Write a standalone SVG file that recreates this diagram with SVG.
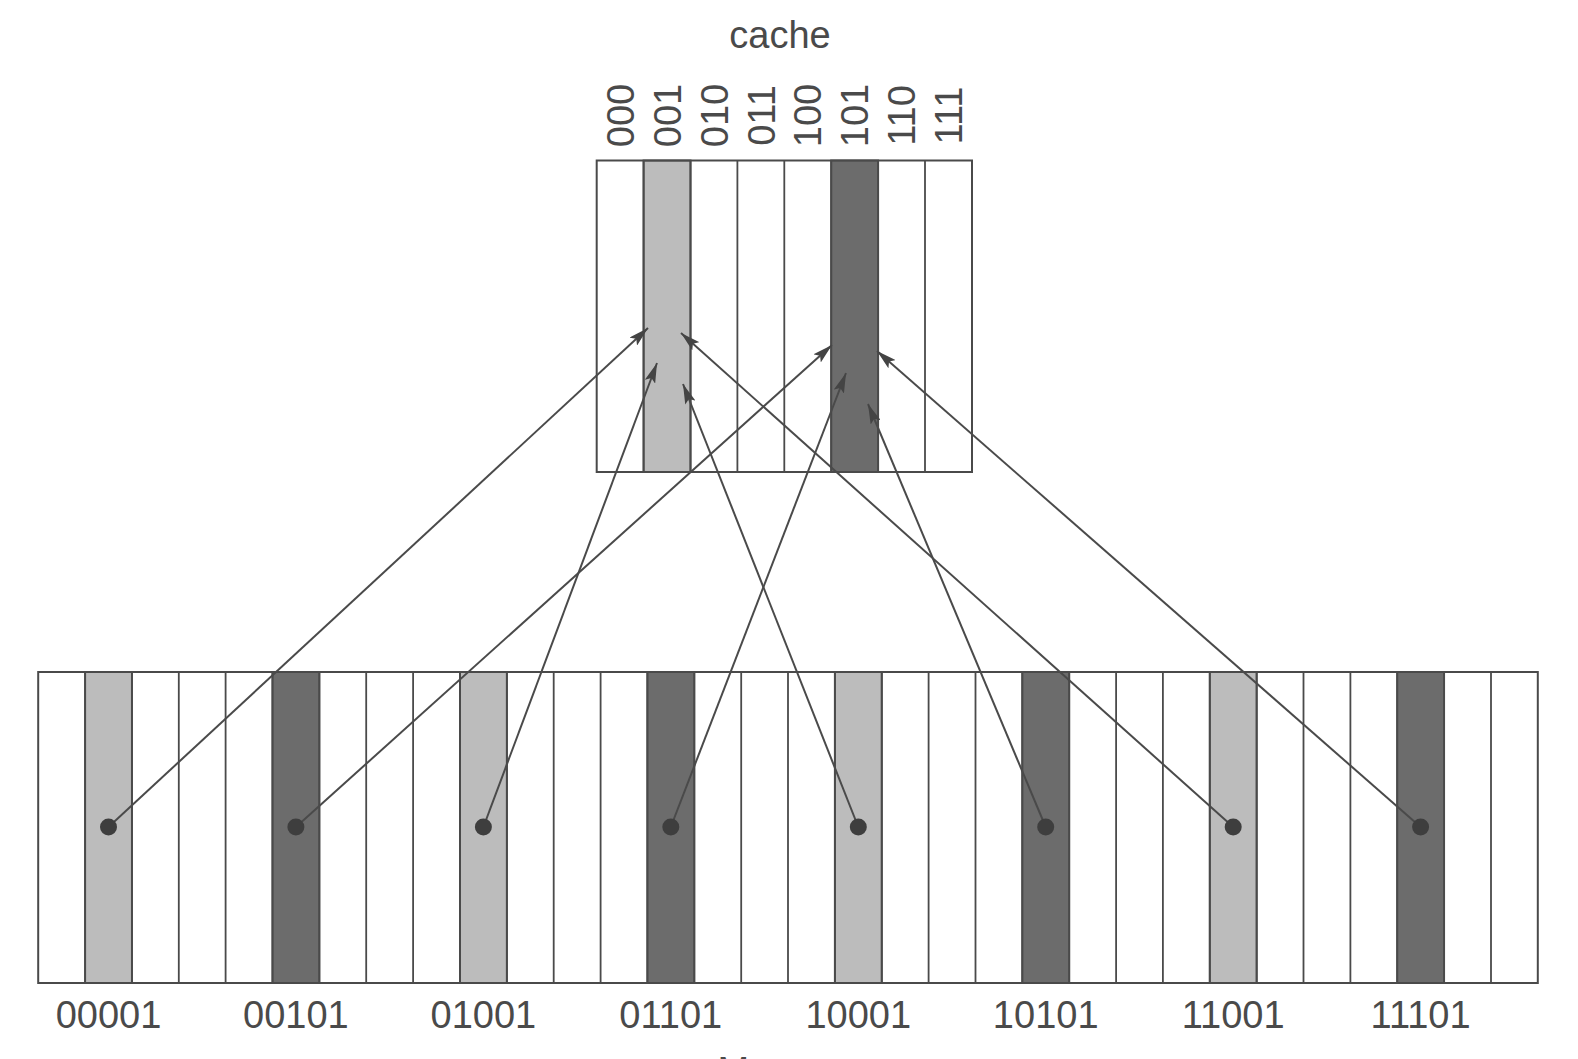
<svg xmlns="http://www.w3.org/2000/svg" width="1578" height="1059" viewBox="0 0 1578 1059">
<style>
text{font-family:"Liberation Sans",Arial,sans-serif;fill:#4a4a4a;font-size:38px}
.box{fill:none;stroke:#4a4a4a;stroke-width:2}
.sep{stroke:#4a4a4a;stroke-width:1.8}
.lt{fill:#bcbcbc;stroke:#555;stroke-width:2}
.dk{fill:#6c6c6c;stroke:#555;stroke-width:2}
.con{stroke:#4a4a4a;stroke-width:2;fill:none;marker-end:url(#ah)}
.dot{fill:#3e3e3e}
</style>
<defs>
<marker id="ah" viewBox="0 0 20 11" refX="20" refY="5.5" markerWidth="20" markerHeight="11" markerUnits="userSpaceOnUse" orient="auto">
<path d="M0,0 L20,5.5 L0,11 L4,5.5 z" fill="#444"/>
</marker>
</defs>
<rect width="1578" height="1059" fill="#fff"/>

<g id="cache">
<text x="780" y="48" text-anchor="middle">cache</text>
<rect class="lt" x="643.6" y="160.5" width="46.9" height="311.5"/>
<rect class="dk" x="831.2" y="160.5" width="46.9" height="311.5"/>
<g class="sep">
<line x1="643.6" y1="160.5" x2="643.6" y2="472"/>
<line x1="690.5" y1="160.5" x2="690.5" y2="472"/>
<line x1="737.4" y1="160.5" x2="737.4" y2="472"/>
<line x1="784.3" y1="160.5" x2="784.3" y2="472"/>
<line x1="831.2" y1="160.5" x2="831.2" y2="472"/>
<line x1="878.1" y1="160.5" x2="878.1" y2="472"/>
<line x1="925" y1="160.5" x2="925" y2="472"/>
</g>
<rect class="box" x="596.7" y="160.5" width="375.3" height="311.5"/>
<g id="cache-labels" text-anchor="middle">
<text transform="translate(633.8,115.5) rotate(-90)">000</text>
<text transform="translate(680.7,115.5) rotate(-90)">001</text>
<text transform="translate(727.6,115.5) rotate(-90)">010</text>
<text transform="translate(774.5,115.5) rotate(-90)">011</text>
<text transform="translate(821.4,115.5) rotate(-90)">100</text>
<text transform="translate(868.3,115.5) rotate(-90)">101</text>
<text transform="translate(915.2,115.5) rotate(-90)">110</text>
<text transform="translate(962.1,115.5) rotate(-90)">111</text>
</g>
</g>

<g id="memory">
<rect class="lt" x="85.1" y="672" width="46.86" height="311"/>
<rect class="dk" x="272.5" y="672" width="46.86" height="311"/>
<rect class="lt" x="460" y="672" width="46.86" height="311"/>
<rect class="dk" x="647.4" y="672" width="46.86" height="311"/>
<rect class="lt" x="834.9" y="672" width="46.86" height="311"/>
<rect class="dk" x="1022.3" y="672" width="46.86" height="311"/>
<rect class="lt" x="1209.8" y="672" width="46.86" height="311"/>
<rect class="dk" x="1397.2" y="672" width="46.86" height="311"/>
<g class="sep">
<line x1="85.1" y1="672" x2="85.1" y2="983"/>
<line x1="131.9" y1="672" x2="131.9" y2="983"/>
<line x1="178.8" y1="672" x2="178.8" y2="983"/>
<line x1="225.6" y1="672" x2="225.6" y2="983"/>
<line x1="272.5" y1="672" x2="272.5" y2="983"/>
<line x1="319.3" y1="672" x2="319.3" y2="983"/>
<line x1="366.2" y1="672" x2="366.2" y2="983"/>
<line x1="413.1" y1="672" x2="413.1" y2="983"/>
<line x1="460" y1="672" x2="460" y2="983"/>
<line x1="506.9" y1="672" x2="506.9" y2="983"/>
<line x1="553.7" y1="672" x2="553.7" y2="983"/>
<line x1="600.6" y1="672" x2="600.6" y2="983"/>
<line x1="647.4" y1="672" x2="647.4" y2="983"/>
<line x1="694.3" y1="672" x2="694.3" y2="983"/>
<line x1="741.2" y1="672" x2="741.2" y2="983"/>
<line x1="788" y1="672" x2="788" y2="983"/>
<line x1="834.9" y1="672" x2="834.9" y2="983"/>
<line x1="881.8" y1="672" x2="881.8" y2="983"/>
<line x1="928.6" y1="672" x2="928.6" y2="983"/>
<line x1="975.5" y1="672" x2="975.5" y2="983"/>
<line x1="1022.3" y1="672" x2="1022.3" y2="983"/>
<line x1="1069.2" y1="672" x2="1069.2" y2="983"/>
<line x1="1116.1" y1="672" x2="1116.1" y2="983"/>
<line x1="1162.9" y1="672" x2="1162.9" y2="983"/>
<line x1="1209.8" y1="672" x2="1209.8" y2="983"/>
<line x1="1256.7" y1="672" x2="1256.7" y2="983"/>
<line x1="1303.5" y1="672" x2="1303.5" y2="983"/>
<line x1="1350.4" y1="672" x2="1350.4" y2="983"/>
<line x1="1397.2" y1="672" x2="1397.2" y2="983"/>
<line x1="1444.1" y1="672" x2="1444.1" y2="983"/>
<line x1="1491" y1="672" x2="1491" y2="983"/>
</g>
<rect class="box" x="38.2" y="672" width="1499.6" height="311"/>
<g id="memory-labels" text-anchor="middle">
<text x="108.5" y="1028">00001</text>
<text x="295.9" y="1028">00101</text>
<text x="483.4" y="1028">01001</text>
<text x="670.8" y="1028">01101</text>
<text x="858.3" y="1028">10001</text>
<text x="1045.7" y="1028">10101</text>
<text x="1233.2" y="1028">11001</text>
<text x="1420.6" y="1028">11101</text>
</g>
<text x="786" y="1084" text-anchor="middle">Memory</text>
</g>

<g id="connectors">
<line class="con" x1="108.5" y1="827" x2="648" y2="328"/>
<line class="con" x1="295.9" y1="827" x2="832" y2="345"/>
<line class="con" x1="483.4" y1="827" x2="657" y2="363"/>
<line class="con" x1="670.8" y1="827" x2="846" y2="373"/>
<line class="con" x1="858.3" y1="827" x2="683" y2="384"/>
<line class="con" x1="1045.7" y1="827" x2="868" y2="404"/>
<line class="con" x1="1233.2" y1="827" x2="681" y2="333"/>
<line class="con" x1="1420.6" y1="827" x2="877" y2="351"/>
<g class="dot">
<circle cx="108.5" cy="827" r="8.5"/>
<circle cx="295.9" cy="827" r="8.5"/>
<circle cx="483.4" cy="827" r="8.5"/>
<circle cx="670.8" cy="827" r="8.5"/>
<circle cx="858.3" cy="827" r="8.5"/>
<circle cx="1045.7" cy="827" r="8.5"/>
<circle cx="1233.2" cy="827" r="8.5"/>
<circle cx="1420.6" cy="827" r="8.5"/>
</g>
</g>
</svg>
